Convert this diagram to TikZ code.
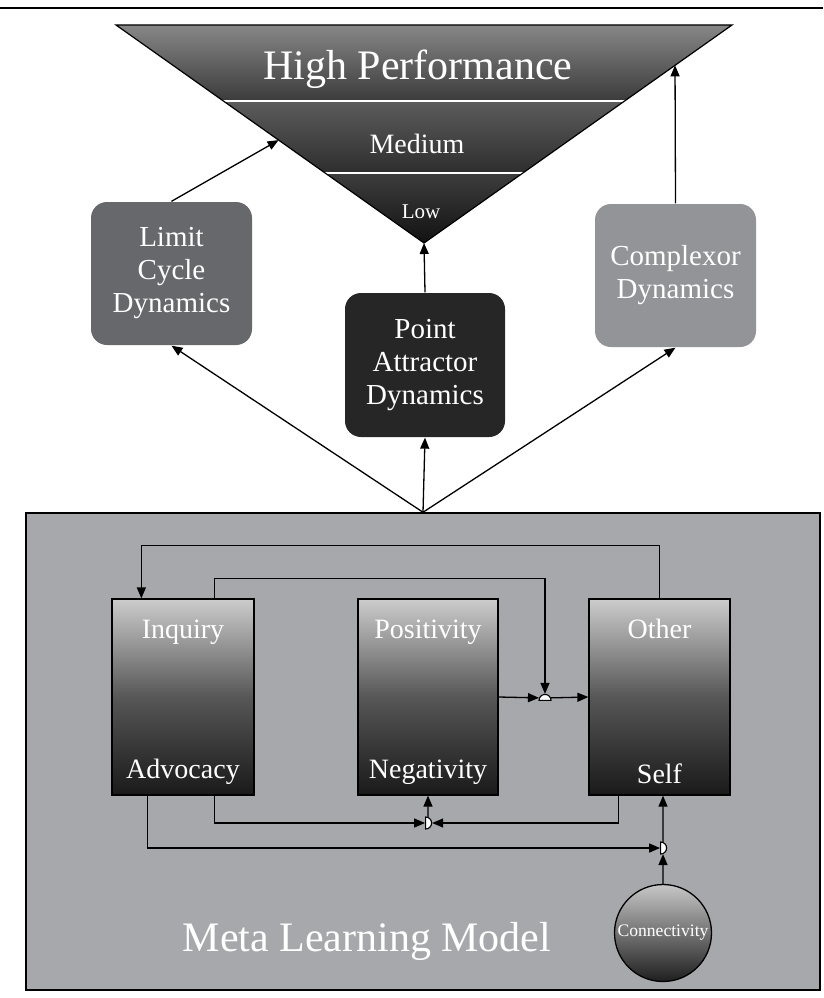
\documentclass[tikz,border=0pt]{standalone}
\usepackage{fontspec}
\setmainfont{Liberation Serif}
\usetikzlibrary{arrows.meta,calc,shapes.geometric}
\definecolor{bgc}{HTML}{A7A8AC}
\definecolor{limc}{HTML}{67686C}
\definecolor{ptc}{HTML}{262626}
\definecolor{cpxc}{HTML}{939498}

\begin{document}
\begin{tikzpicture}[x=1pt, y=-1pt, line width=1.3pt, >={Triangle[length=11pt,width=9pt]},
    dyn/.style={rounded corners=16pt, minimum width=161pt, minimum height=143pt, align=center,
        text=white, font=\fontsize{29}{33}\selectfont},
    lvl/.style={draw, minimum width=141pt, minimum height=196pt, top color=black!20,
        bottom color=black!90, middle color=black!66},
    lbl/.style={text=white, inner sep=0pt, anchor=base, font=\fontsize{28}{28}\selectfont},
    jn/.style={semicircle, draw, fill=white, inner sep=0pt, minimum width=12pt, line width=1.1pt}]
    \useasboundingbox (0,0) rectangle (823,998);
    \draw[line width=2.5pt] (0,8) -- (823,8);

    % funnel
    \coordinate (tl) at (116,25);
    \coordinate (tr) at (732,25);
    \coordinate (apex) at (424,243);
    \coordinate (m1) at ($(tl)!0.349!(apex)$);
    \coordinate (m2) at ($(tr)!0.349!(apex)$);
    \coordinate (l1) at ($(tl)!0.679!(apex)$);
    \coordinate (l2) at ($(tr)!0.679!(apex)$);
    \shade[top color=black!47, bottom color=black!77] (tl) -- (tr) -- (m2) -- (m1) -- cycle;
    \shade[top color=black!64, bottom color=black!82] (m1) -- (m2) -- (l2) -- (l1) -- cycle;
    \shade[top color=black!76, bottom color=black!93] (l1) -- (l2) -- (apex) -- cycle;
    \draw[white, line width=1.5pt] (m1) -- (m2) (l1) -- (l2);
    \draw[line width=1.2pt] (tl) -- (tr) -- (apex) -- cycle;
    \node[lbl, font=\fontsize{42}{42}\selectfont] (high) at (418,80) {High Performance};
    \node[lbl] (med) at (417,153) {Medium};
    \node[lbl, font=\fontsize{21}{21}\selectfont] (low) at (421,218) {Low};
    \coordinate (lp) at ($(tl)!0.528!(apex)$);
    \coordinate (cp) at ($(tr)!0.185!(apex)$);

    % dynamics
    \node[dyn, fill=limc] (limit) at (171.5,273.5) {Limit\\Cycle\\Dynamics};
    \node[dyn, fill=ptc, minimum width=160pt, minimum height=144pt] (point) at (425,365) {Point\\Attractor\\Dynamics};
    \node[dyn, fill=cpxc] (cplx) at (675.5,275.5) {Complexor\\Dynamics};
    \draw[->] (limit.north) -- (lp);
    \draw[->] (point.north) -- (apex);
    \draw[->] (cplx.north) -- (cp);

    % meta model
    \node[draw, fill=bgc, minimum width=794pt, minimum height=477pt, line width=1.5pt] (meta) at (423,751.5) {};
    \draw[->] (meta.north) -- (limit.south);
    \draw[->] (meta.north) -- (point.south);
    \draw[->] (meta.north) -- (cplx.south);
    \node[lbl, font=\fontsize{42}{42}\selectfont] (title) at (367,951) {Meta Learning Model};

    \node[lvl, minimum width=142pt] (inq) at (183,697) {};
    \node[lvl, minimum width=140pt] (pos) at (428,697) {};
    \node[lvl] (oth) at (659.5,697) {};
    \node[lbl] at ([yshift=-40pt]inq.north) {Inquiry};
    \node[lbl] at ([yshift=-40pt]pos.north) {Positivity};
    \node[lbl] at ([yshift=-40pt]oth.north) {Other};
    \node[lbl] at ([yshift=17pt]inq.south) {Advocacy};
    \node[lbl] at ([yshift=17pt]pos.south) {Negativity};
    \node[lbl] at ([yshift=12pt]oth.south) {Self};

    \node[circle, draw, minimum size=97pt, inner sep=0pt, top color=black!22, bottom color=black!88,
        text=white, font=\fontsize{17.6}{17.6}\selectfont] (conn) at (663,933) {Connectivity};

    \node[jn] (j1) at (545,698) {};
    \node[jn, rotate=-90] (j2) at (428,823) {};
    \node[jn, rotate=-90] (j3) at (663,848) {};

    \draw[->] (oth.north) -- ++(0,-53) -| ([xshift=30pt]inq.north west);
    \draw[->] ([xshift=-40pt]inq.north east) -- ++(0,-20) -| (j1);
    \draw[->] (pos.east) -- (j1);
    \draw[->] (j1) -- (oth.west);
    \draw[->] ([xshift=-40pt]inq.south east) |- (j2);
    \draw[->] ([xshift=30pt]oth.south west) |- (j2);
    \draw[->] (j2) -- (pos.south);
    \draw[->] ([xshift=36pt]inq.south west) |- (j3);
    \draw[->] (conn) -- (j3);
    \draw[->] (j3) -- (j3 |- oth.south);
\end{tikzpicture}
\end{document}
